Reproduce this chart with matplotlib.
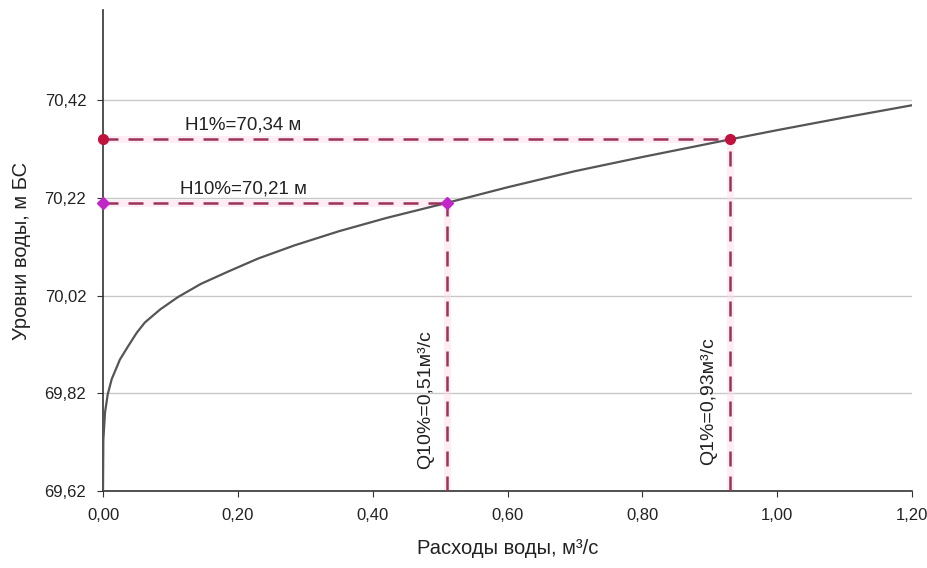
import matplotlib
matplotlib.use("Agg")
import matplotlib.pyplot as plt
from matplotlib.ticker import FuncFormatter

plt.rcParams['font.family'] = ['Liberation Sans', 'DejaVu Sans']

# Rating curve (discharge vs water level)
q_curve = [0.0, 0.0005, 0.003, 0.007, 0.0129, 0.025, 0.0375, 0.05, 0.062, 0.085,
           0.111, 0.145, 0.185, 0.23, 0.284, 0.35, 0.42, 0.51, 0.6, 0.7, 0.8, 0.93,
           1.0, 1.1, 1.2]
h_curve = [69.62, 69.725, 69.781, 69.818, 69.849, 69.889, 69.917, 69.944, 69.965, 69.992,
           70.017, 70.044, 70.069, 70.096, 70.123, 70.152, 70.179, 70.21, 70.242, 70.275,
           70.304, 70.34, 70.359, 70.385, 70.41]

# Design values
q1, h1 = 0.93, 70.34
q10, h10 = 0.51, 70.21
label_h1 = "H1%=70,34 м"
label_h10 = "H10%=70,21 м"
label_q1 = "Q1%=0,93м³/с"
label_q10 = "Q10%=0,51м³/с"

x_ticks = [0.0, 0.2, 0.4, 0.6, 0.8, 1.0, 1.2]
y_ticks = [69.62, 69.82, 70.02, 70.22, 70.42]
x_label = "Расходы воды, м³/с"
y_label = "Уровни воды, м БС"

fig = plt.figure(figsize=(9.28, 5.68), dpi=100)
ax = fig.add_axes([0.111, 0.1356, 0.872, 0.8468])

ymin, ymax = 69.62, 70.605
ax.set_xlim(0, 1.2)
ax.set_ylim(ymin, ymax)

ax.set_yticks(y_ticks)
ax.set_xticks(x_ticks)
fmt = FuncFormatter(lambda v, p: f"{v:.2f}".replace('.', ','))
ax.yaxis.set_major_formatter(fmt)
ax.xaxis.set_major_formatter(fmt)
ax.grid(axis='y', color='#c8c8c8', linewidth=1.0)
ax.set_axisbelow(True)

for s in ['top', 'right']:
    ax.spines[s].set_visible(False)
for s in ['left', 'bottom']:
    ax.spines[s].set_color('#333333')
    ax.spines[s].set_linewidth(1.2)
ax.tick_params(direction='out', length=4, colors='#333333', labelsize=12,
               labelcolor='#222222', pad=8)

# faint glow behind the dashed guide lines
glow = dict(color='#ffdcec', linewidth=5, alpha=0.5, solid_capstyle='butt', zorder=1)
ax.plot([0, q1], [h1, h1], **glow)
ax.plot([q1, q1], [ymin, h1], **glow)
ax.plot([0, q10], [h10, h10], **glow)
ax.plot([q10, q10], [ymin, h10], **glow)

# curve
ax.plot(q_curve, h_curve, color='#555555', linewidth=1.6, zorder=3)

dash = dict(color='#9a3358', linewidth=1.8, dashes=(6, 4), zorder=4)
ax.plot([0, q1], [h1, h1], **dash)
ax.plot([q1, q1], [ymin, h1], **dash)
ax.plot([0, q10], [h10, h10], **dash)
ax.plot([q10, q10], [ymin, h10], **dash)

ax.plot([0, q1], [h1, h1], linestyle='none', marker='o', markersize=7,
        color='#c0123c', zorder=5, clip_on=False)
ax.plot([0, q10], [h10, h10], linestyle='none', marker='D', markersize=6,
        color='#c026c8', zorder=5, clip_on=False)

ax.text(0.121, h1 + 0.012, label_h1, fontsize=13.5, color='#222222', va='bottom', ha='left')
ax.text(0.114, h10 + 0.012, label_h10, fontsize=13.5, color='#222222', va='bottom', ha='left')
ax.text(q10 - 0.032, 69.807, label_q10, fontsize=14, color='#222222', rotation=90,
        va='center', ha='center')
ax.text(q1 - 0.032, 69.803, label_q1, fontsize=14, color='#222222', rotation=90,
        va='center', ha='center')

ax.set_xlabel(x_label, fontsize=14.5, color='#222222', labelpad=12)
ax.set_ylabel(y_label, fontsize=14.5, color='#222222', labelpad=10)

fig.savefig("out.png", dpi=100)
